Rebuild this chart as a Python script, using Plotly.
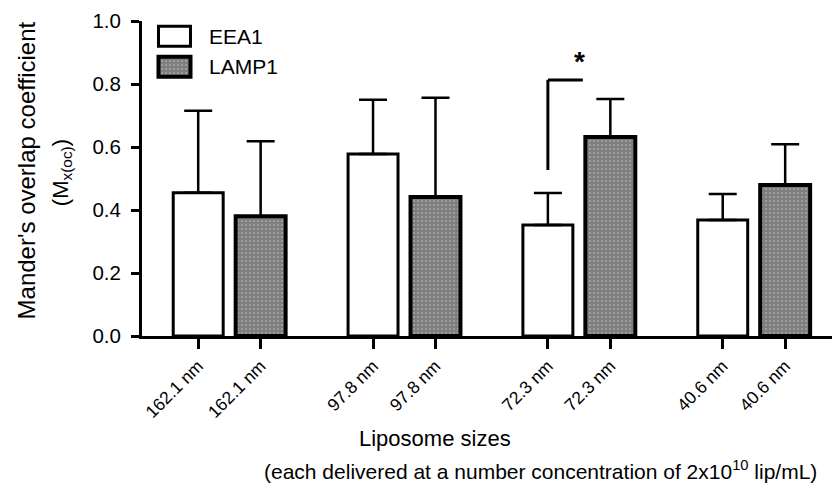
import plotly.graph_objects as go

sizes = ["162.1 nm", "97.8 nm", "72.3 nm", "40.6 nm"]
eea1_mean = [0.455, 0.578, 0.352, 0.368]
eea1_err = [0.260, 0.172, 0.102, 0.083]
lamp1_mean = [0.380, 0.441, 0.632, 0.479]
lamp1_err = [0.238, 0.315, 0.120, 0.130]
series_names = ["EEA1", "LAMP1"]

GROUP_STEP = 2.8
eea1_x = [i * GROUP_STEP for i in range(len(sizes))]
lamp1_x = [i * GROUP_STEP + 1 for i in range(len(sizes))]

FONT = "Liberation Sans, Arial, sans-serif"
LAMP_PATTERN = dict(shape=".", fgcolor="black", bgcolor="white", size=4, solidity=0.85)

fig = go.Figure()
fig.add_trace(go.Bar(
    x=eea1_x, y=eea1_mean, name=series_names[0], width=0.8, showlegend=False,
    marker=dict(color="white", line=dict(color="black", width=3)),
    error_y=dict(type="data", array=eea1_err, arrayminus=[0] * 4, symmetric=False,
                 color="black", thickness=2.5, width=14),
))
fig.add_trace(go.Bar(
    x=lamp1_x, y=lamp1_mean, name=series_names[1], width=0.8, showlegend=False,
    marker=dict(color="white", line=dict(color="black", width=4), pattern=LAMP_PATTERN),
    error_y=dict(type="data", array=lamp1_err, arrayminus=[0] * 4, symmetric=False,
                 color="black", thickness=2.5, width=14),
))

# legend key swatches drawn on a small inset axis
fig.add_trace(go.Bar(
    y=[1], x=[32], base=[8.5], orientation="h", width=0.66, showlegend=False,
    xaxis="x2", yaxis="y2", hoverinfo="skip",
    marker=dict(color="white", line=dict(color="black", width=3)),
))
fig.add_trace(go.Bar(
    y=[0], x=[32], base=[8.5], orientation="h", width=0.66, showlegend=False,
    xaxis="x2", yaxis="y2", hoverinfo="skip",
    marker=dict(color="white", line=dict(color="black", width=4), pattern=LAMP_PATTERN),
))

# significance bracket between the 72.3 nm bars
bx0 = eea1_x[2]
bx1 = lamp1_x[2] - 0.44
fig.add_shape(type="line", x0=bx0, x1=bx0, y0=0.527, y1=0.813, line=dict(color="black", width=3))
fig.add_shape(type="line", x0=bx0, x1=bx1, y0=0.813, y1=0.813, line=dict(color="black", width=3))
fig.add_annotation(x=lamp1_x[2] - 0.5, y=0.87, text="<b>*</b>", showarrow=False,
                   font=dict(size=28, color="black", family=FONT))

tickvals = []
ticktext = []
for i, s in enumerate(sizes):
    tickvals += [eea1_x[i], lamp1_x[i]]
    ticktext += [s, s]

fig.update_layout(
    width=832, height=488,
    margin=dict(l=142, r=0, t=21, b=152),
    plot_bgcolor="white", paper_bgcolor="white",
    font=dict(family=FONT, color="black"),
    barmode="overlay",
    showlegend=False,
    xaxis=dict(range=[-0.9, 10.15], showline=True, linewidth=3, linecolor="black",
               ticks="outside", ticklen=10, tickwidth=2.5, tickcolor="black",
               tickvals=tickvals, ticktext=ticktext, tickangle=-45,
               tickfont=dict(size=17.5, family=FONT), showgrid=False, zeroline=False),
    yaxis=dict(range=[0, 1.0], showline=True, linewidth=3, linecolor="black",
               ticks="outside", ticklen=8, tickwidth=2.5, tickcolor="black",
               tickvals=[0, 0.2, 0.4, 0.6, 0.8, 1.0], tickformat=".1f", ticklabelstandoff=6,
               tickfont=dict(size=20.5, family=FONT), showgrid=False, zeroline=False),
    xaxis2=dict(domain=[(150 - 142) / 690, (200 - 142) / 690], range=[0, 50], anchor="y2",
                visible=False, fixedrange=True),
    yaxis2=dict(domain=[(336 - 82) / 315, (336 - 21) / 315], range=[-0.5, 1.5], anchor="x2",
                visible=False, fixedrange=True),
)

fig.add_annotation(xref="paper", yref="paper", x=(207 - 142) / 690, y=(336 - 36) / 315,
                   text=series_names[0], showarrow=False, xanchor="left", yanchor="middle",
                   font=dict(size=21, family=FONT))
fig.add_annotation(xref="paper", yref="paper", x=(207 - 142) / 690, y=(336 - 66) / 315,
                   text=series_names[1], showarrow=False, xanchor="left", yanchor="middle",
                   font=dict(size=21, family=FONT))

fig.add_annotation(xref="paper", yref="paper", x=-0.166, y=0.527, text="Mander's overlap coefficient",
                   textangle=-90, showarrow=False, xanchor="center", yanchor="middle",
                   font=dict(size=24, family=FONT))
fig.add_annotation(xref="paper", yref="paper", x=-0.116, y=0.52, text="(M<sub>x(oc)</sub>)",
                   textangle=-90, showarrow=False, xanchor="center", yanchor="middle",
                   font=dict(size=22, family=FONT))
fig.add_annotation(xref="paper", yref="paper", x=0.4246, y=-0.324, text="Liposome sizes",
                   showarrow=False, xanchor="center", yanchor="middle",
                   font=dict(size=22, family=FONT))
fig.add_annotation(xref="paper", yref="paper", x=0.5775, y=-0.425,
                   text="(each delivered at a number concentration of 2x10<sup>10</sup> lip/mL)",
                   showarrow=False, xanchor="center", yanchor="middle",
                   font=dict(size=21, family=FONT))

fig.write_html("out.html")
